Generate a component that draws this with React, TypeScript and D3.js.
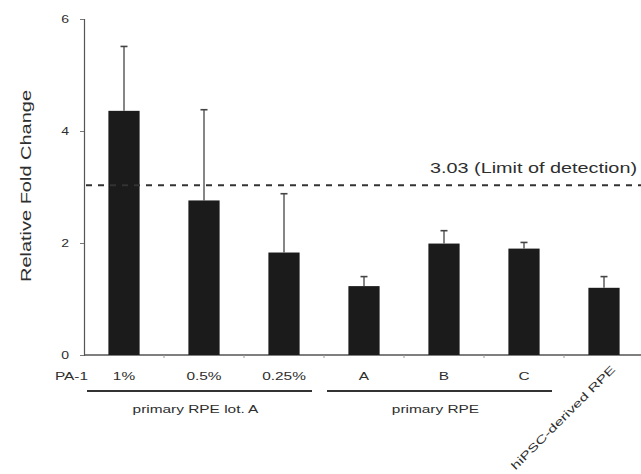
import { useRef, useEffect } from "react";
import * as d3 from "d3";

// values
const categories = ["1%", "0.5%", "0.25%", "A", "B", "C", "hiPSC"];
const tickLabels = ["1%", "0.5%", "0.25%", "A", "B", "C", ""];
const foldChange = [4.36, 2.76, 1.83, 1.23, 1.99, 1.9, 1.2];
const errUp = [1.15, 1.62, 1.05, 0.17, 0.23, 0.11, 0.2];
const yTicks = [0, 2, 4, 6];
const groupLabels = ["primary RPE lot. A", "primary RPE"];
const groupFrom = ["1%", "A"];
const groupTo = ["0.25%", "C"];
const limitOfDetection = 3.03;

const W = 641;
const H = 474;
const STRETCH = 1.4; // the original text is drawn wide

export default function App() {
     const ref = useRef<SVGSVGElement | null>(null);

     useEffect(() => {
          const svg = d3.select(ref.current);
          svg.selectAll("*").remove();

          const x = d3.scaleBand()
               .domain(categories)
               .range([84, 644])
               .paddingInner(0.61)
               .paddingOuter(0.305);
          const y = d3.scaleLinear().domain([0, 6]).range([355, 19]);
          const ink = "#2e2e2e";
          const font = "Liberation Sans, Arial, sans-serif";

          // y axis
          const yAxis = d3.axisLeft(y)
               .tickValues(yTicks)
               .tickFormat(d3.format("d"))
               .tickSize(4)
               .tickPadding(11);
          const gy = svg.append("g").attr("transform", "translate(84,0)").call(yAxis);
          gy.select(".domain").attr("stroke", "#555").attr("stroke-width", 1.2);
          gy.selectAll(".tick line").attr("stroke", "#777");
          gy.selectAll("text").attr("font-size", 10).attr("font-family", font).attr("fill", ink).attr("class", "wide");

          // x axis line + small ticks between categories
          svg.append("line")
               .attr("x1", 84).attr("x2", W)
               .attr("y1", y(0)).attr("y2", y(0))
               .attr("stroke", "#555").attr("stroke-width", 1.4);
          svg.selectAll(".xminor")
               .data(categories)
               .enter()
               .append("line")
               .attr("x1", d => x(d)! + x.bandwidth() / 2 + x.step() / 2)
               .attr("x2", d => x(d)! + x.bandwidth() / 2 + x.step() / 2)
               .attr("y1", y(0)).attr("y2", y(0) + 3)
               .attr("stroke", "#999");

          // bars
          svg.selectAll("rect.bar")
               .data(foldChange)
               .enter()
               .append("rect")
               .attr("class", "bar")
               .attr("x", (_, i) => x(categories[i])!)
               .attr("width", x.bandwidth())
               .attr("y", d => y(d))
               .attr("height", d => y(0) - y(d))
               .attr("fill", "#1b1b1b");

          // error bars (upper only)
          const eb = svg.selectAll("g.err")
               .data(foldChange)
               .enter()
               .append("g")
               .attr("class", "err")
               .attr("transform", (_, i) => `translate(${x(categories[i])! + x.bandwidth() / 2},0)`);
          eb.append("line")
               .attr("y1", d => y(d))
               .attr("y2", (d, i) => y(d + errUp[i]))
               .attr("stroke", "#444").attr("stroke-width", 1.3);
          eb.append("line")
               .attr("x1", -3.5).attr("x2", 3.5)
               .attr("y1", (d, i) => y(d + errUp[i]))
               .attr("y2", (d, i) => y(d + errUp[i]))
               .attr("stroke", "#444").attr("stroke-width", 1.6);

          // limit of detection
          svg.append("line")
               .attr("x1", 86).attr("x2", W)
               .attr("y1", y(limitOfDetection)).attr("y2", y(limitOfDetection))
               .attr("stroke", "#333").attr("stroke-width", 2)
               .attr("stroke-dasharray", "6,6");
          svg.append("text")
               .attr("x", 637).attr("y", y(limitOfDetection) - 12)
               .attr("text-anchor", "end")
               .attr("font-size", 14).attr("font-family", font).attr("fill", ink)
               .attr("textLength", 207).attr("lengthAdjust", "spacingAndGlyphs")
               .text(`${limitOfDetection} (Limit of detection)`);

          // category labels
          svg.selectAll("text.cat")
               .data(tickLabels)
               .enter()
               .append("text")
               .attr("class", "cat wide")
               .attr("x", (_, i) => x(categories[i])! + x.bandwidth() / 2)
               .attr("y", 380)
               .attr("text-anchor", "middle")
               .attr("font-size", 11).attr("font-family", font).attr("fill", ink)
               .text(d => d);
          svg.append("text")
               .attr("class", "wide")
               .attr("x", 88).attr("y", 380)
               .attr("text-anchor", "end")
               .attr("font-size", 11).attr("font-family", font).attr("fill", ink)
               .text("PA-1");
          const last = categories[categories.length - 1];
          const lx = x(last)! + x.bandwidth() / 2 + 12;
          svg.append("text")
               .attr("transform", `translate(${lx},370) rotate(-45)`)
               .attr("text-anchor", "end")
               .attr("font-size", 11).attr("font-family", font).attr("fill", ink)
               .attr("textLength", 142).attr("lengthAdjust", "spacingAndGlyphs")
               .text("hiPSC-derived RPE");

          // group brackets
          groupLabels.forEach((g, i) => {
               const x0 = x(groupFrom[i])! + x.bandwidth() / 2 - 37;
               const x1 = x(groupTo[i])! + x.bandwidth() / 2 + 28;
               svg.append("line")
                    .attr("x1", x0).attr("x2", x1)
                    .attr("y1", 391).attr("y2", 391)
                    .attr("stroke", "#333").attr("stroke-width", 2);
               svg.append("text")
                    .attr("class", "wide")
                    .attr("x", (x0 + x1) / 2 - 4).attr("y", 413)
                    .attr("text-anchor", "middle")
                    .attr("font-size", 11).attr("font-family", font).attr("fill", ink)
                    .text(g);
          });

          // y label
          svg.append("text")
               .attr("transform", "translate(31,186) rotate(-90)")
               .attr("text-anchor", "middle")
               .attr("font-size", 15).attr("font-family", font).attr("fill", ink)
               .attr("textLength", 192).attr("lengthAdjust", "spacingAndGlyphs")
               .text("Relative Fold Change");

          // widen the horizontal labels like in the original
          svg.selectAll<SVGTextElement, unknown>("text.wide").each(function () {
               const len = this.getComputedTextLength();
               if (len > 0)
                    d3.select(this).attr("textLength", len * STRETCH).attr("lengthAdjust", "spacingAndGlyphs");
          });
     }, []);

     return (
          <svg
               ref={ref}
               width={W}
               height={H}
               style={{ position: "absolute", left: 0, top: 0, background: "white" }}
          />
     );
}
